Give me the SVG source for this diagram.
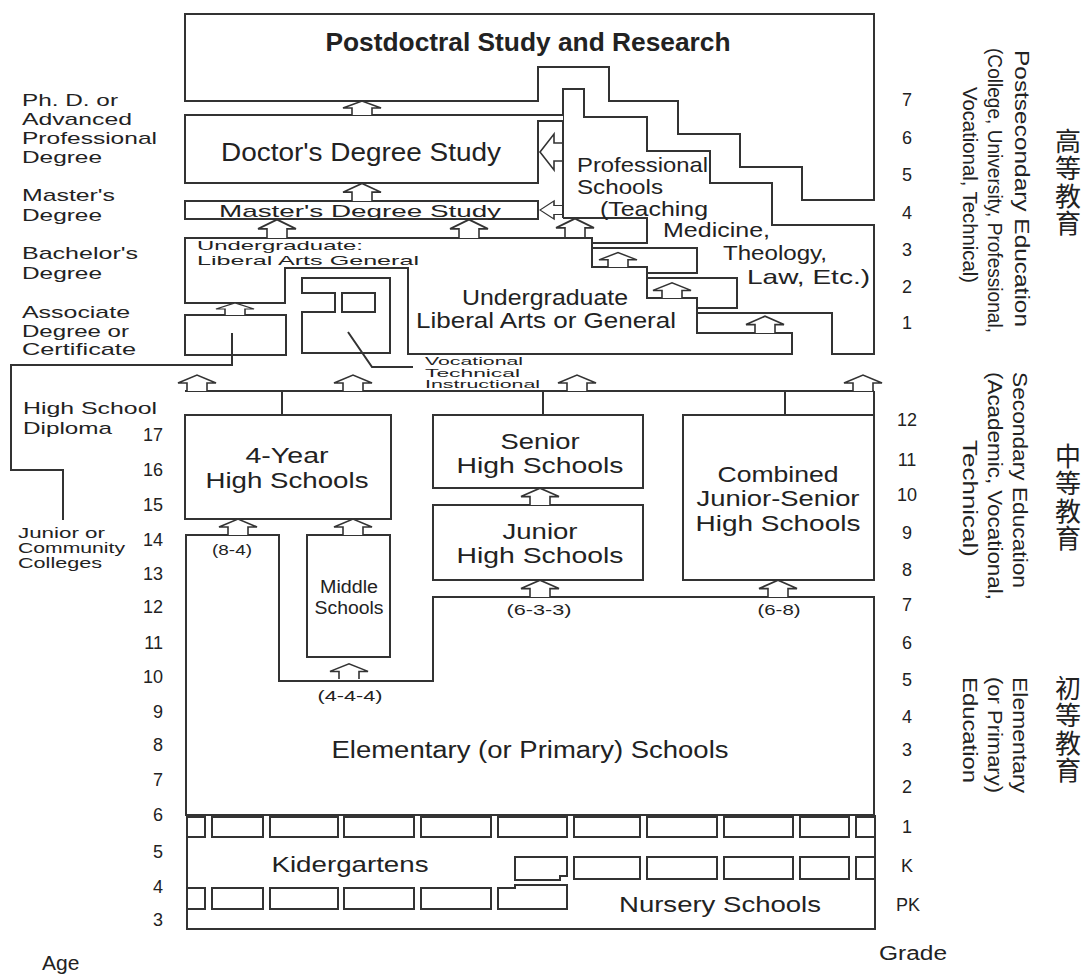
<svg xmlns="http://www.w3.org/2000/svg" width="1091" height="976" viewBox="0 0 1091 976">
<style>
.ln{fill:none;stroke:#333;stroke-width:2}
.bx{fill:#fff;stroke:#333;stroke-width:2}
.ar{fill:#fff;stroke:#333;stroke-width:1.6;stroke-linejoin:miter}
text{font-family:"Liberation Sans",Arial,sans-serif;fill:#222}
.b{font-weight:bold}
.m{text-anchor:middle}
.e{text-anchor:end}
.s{text-anchor:start}
.hs{font-size:22px}
.cjk{font-family:"Noto Sans CJK SC","Noto Sans CJK JP",sans-serif;font-size:26px;fill:#222;writing-mode:vertical-rl;letter-spacing:1.5px}
</style>
<defs>
<path id="ua" class="ar" d="M-10,0 V-8 H-19 L0,-16 L19,-8 H10 V0"/>
<path id="la" class="ar" d="M0,-9 H-8 V-18 L-22,0 L-8,18 V9 H0"/>
</defs>
<rect width="1091" height="976" fill="#fff"/>

<g id="postdoc">
<path class="bx" d="M185,14 H874 V200 H802 V167 H740 V134 H678 V101 H609 V67 H538 V101 H185 Z"/>
<text class="b m" x="528" y="51" font-size="25" textLength="405" lengthAdjust="spacingAndGlyphs">Postdoctral Study and Research</text>
</g>

<g id="professional">
<path class="ln" d="M563,218 V89 H584 V117 H647 V151 H710 V183 H772 V225 H874 V354 H832 V313 H697"/>
<path class="ln" d="M647,278 H737 V308 H697"/>
<path class="ln" d="M592,248 H697 V273 H647"/>
<path class="ln" d="M563,218 H647 V243 H592"/>
<text x="577" y="172" font-size="21" textLength="131" lengthAdjust="spacingAndGlyphs">Professional</text>
<text x="577" y="194" font-size="21" textLength="86" lengthAdjust="spacingAndGlyphs">Schools</text>
<text x="600" y="216" font-size="21" textLength="108" lengthAdjust="spacingAndGlyphs">(Teaching</text>
<text x="663" y="237" font-size="21" textLength="107" lengthAdjust="spacingAndGlyphs">Medicine,</text>
<text x="723" y="260" font-size="21" textLength="104" lengthAdjust="spacingAndGlyphs">Theology,</text>
<text x="747" y="284" font-size="21" textLength="123" lengthAdjust="spacingAndGlyphs">Law, Etc.)</text>
</g>

<g id="doctor">
<path class="bx" d="M563,115 H185 V183 H538 V121 H563"/>
<text class="m" x="361" y="161" font-size="25" textLength="280" lengthAdjust="spacingAndGlyphs">Doctor's Degree Study</text>
</g>

<g id="master">
<rect class="bx" x="185" y="201" width="353" height="18"/>
<text class="m" x="360" y="217" font-size="17" textLength="282" lengthAdjust="spacingAndGlyphs">Master's Degree Study</text>
</g>

<g id="undergrad">
<path class="ln" d="M185,238 H592 V267 H647 V298 H697 V333 H792 V354 H408 V268 H285 V303 H185 Z"/>
<path class="ln" d="M832,333 V354"/>
<text x="197" y="250" font-size="13.5" textLength="166" lengthAdjust="spacingAndGlyphs">Undergraduate:</text>
<text x="197" y="265" font-size="13.5" textLength="222" lengthAdjust="spacingAndGlyphs">Liberal Arts General</text>
<text class="m" x="545" y="305" font-size="22" textLength="166" lengthAdjust="spacingAndGlyphs">Undergraduate</text>
<text class="m" x="546" y="328" font-size="22" textLength="260" lengthAdjust="spacingAndGlyphs">Liberal Arts or General</text>
</g>

<g id="associate">
<rect class="bx" x="185" y="315" width="101" height="40"/>
</g>

<g id="vocational">
<path class="bx" d="M302,293 V278 H390 V353 H302 V312 H335 V293 Z"/>
<rect class="bx" x="342" y="293" width="33" height="19"/>
<text x="425" y="365" font-size="11" textLength="98" lengthAdjust="spacingAndGlyphs">Vocational</text>
<text x="425" y="376.5" font-size="11" textLength="95" lengthAdjust="spacingAndGlyphs">Technical</text>
<text x="425" y="388" font-size="11" textLength="115" lengthAdjust="spacingAndGlyphs">Instructional</text>
</g>

<g id="hs4">
<rect class="bx" x="185" y="415" width="206" height="104"/>
<text class="m hs" x="287" y="463" textLength="83" lengthAdjust="spacingAndGlyphs">4-Year</text>
<text class="m hs" x="287" y="488" textLength="163" lengthAdjust="spacingAndGlyphs">High Schools</text>
</g>

<g id="senior">
<rect class="bx" x="433" y="415" width="210" height="73"/>
<text class="m hs" x="540" y="449" textLength="79" lengthAdjust="spacingAndGlyphs">Senior</text>
<text class="m hs" x="540" y="473" textLength="167" lengthAdjust="spacingAndGlyphs">High Schools</text>
</g>

<g id="junior">
<rect class="bx" x="433" y="505" width="210" height="75"/>
<text class="m hs" x="540" y="539" textLength="75" lengthAdjust="spacingAndGlyphs">Junior</text>
<text class="m hs" x="540" y="563" textLength="167" lengthAdjust="spacingAndGlyphs">High Schools</text>
</g>

<g id="combined">
<rect class="bx" x="683" y="415" width="191" height="165"/>
<text class="m hs" x="778" y="482" textLength="121" lengthAdjust="spacingAndGlyphs">Combined</text>
<text class="m hs" x="778" y="506" textLength="163" lengthAdjust="spacingAndGlyphs">Junior-Senior</text>
<text class="m hs" x="778" y="531" textLength="165" lengthAdjust="spacingAndGlyphs">High Schools</text>
</g>

<g id="elementary">
<path class="bx" d="M186,535 H279 V681 H433 V597 H874 V815 H186 Z"/>
<text class="m" x="530" y="758" font-size="23" textLength="397" lengthAdjust="spacingAndGlyphs">Elementary (or Primary) Schools</text>
<text class="m" x="232" y="555" font-size="15" textLength="40" lengthAdjust="spacingAndGlyphs">(8-4)</text>
<text class="m" x="539" y="615" font-size="15" textLength="65" lengthAdjust="spacingAndGlyphs">(6-3-3)</text>
<text class="m" x="779" y="615" font-size="15" textLength="43" lengthAdjust="spacingAndGlyphs">(6-8)</text>
<text class="m" x="350" y="701" font-size="15" textLength="65" lengthAdjust="spacingAndGlyphs">(4-4-4)</text>
</g>

<g id="middle">
<rect class="bx" x="307" y="535" width="83" height="122"/>
<text class="m" x="349" y="593" font-size="18" textLength="58" lengthAdjust="spacingAndGlyphs">Middle</text>
<text class="m" x="349" y="614" font-size="18" textLength="69" lengthAdjust="spacingAndGlyphs">Schools</text>
</g>

<g id="early">
<path class="ln" d="M187,815 V929 H875 V815"/>
<path class="ln" d="M187,817 H205 V837 H187"/>
<path class="ln" d="M875,817 H856 V837 H875"/>
<rect class="ln" x="212" y="817" width="51" height="20"/>
<rect class="ln" x="270" y="817" width="68" height="20"/>
<rect class="ln" x="344" y="817" width="70" height="20"/>
<rect class="ln" x="421" y="817" width="70" height="20"/>
<rect class="ln" x="498" y="817" width="69" height="20"/>
<rect class="ln" x="574" y="817" width="66" height="20"/>
<rect class="ln" x="647" y="817" width="70" height="20"/>
<rect class="ln" x="724" y="817" width="69" height="20"/>
<rect class="ln" x="800" y="817" width="49" height="20"/>
<path class="ln" d="M875,857 H856 V879 H875"/>
<path class="ln" d="M567,857 H515 V880 H560 V876 H567 Z"/>
<rect class="ln" x="574" y="857" width="66" height="22"/>
<rect class="ln" x="647" y="857" width="70" height="22"/>
<rect class="ln" x="724" y="857" width="69" height="22"/>
<rect class="ln" x="800" y="857" width="49" height="22"/>
<path class="ln" d="M187,888 H205 V909 H187"/>
<rect class="ln" x="212" y="888" width="51" height="21"/>
<rect class="ln" x="270" y="888" width="68" height="21"/>
<rect class="ln" x="344" y="888" width="70" height="21"/>
<rect class="ln" x="421" y="888" width="70" height="21"/>
<path class="ln" d="M498,888 H515 V885 H567 V909 H498 Z"/>
<text class="m" x="350" y="872" font-size="22" textLength="157" lengthAdjust="spacingAndGlyphs">Kidergartens</text>
<text class="m" x="720" y="912" font-size="22" textLength="202" lengthAdjust="spacingAndGlyphs">Nursery Schools</text>
</g>

<g id="connectors">
<path class="ln" d="M185,391 H874 M282,391 V415 M543,391 V415 M785,391 V415 M874,391 V415"/>
<path class="ln" d="M232,333 V365 H11 V470 H63 V520"/>
<path class="ln" d="M348,332 L372,367 H413"/>
<use href="#ua" transform="translate(362,115) scale(1,0.875)"/>
<use href="#ua" transform="translate(362,201) scale(1,1.1)"/>
<use href="#ua" transform="translate(277,238) scale(1,1.15)"/>
<use href="#ua" transform="translate(469,238) scale(1,1.15)"/>
<use href="#ua" transform="translate(575,237) scale(1,1.15)"/>
<use href="#ua" transform="translate(618,267) scale(1,0.9)"/>
<use href="#ua" transform="translate(672,298) scale(1,0.95)"/>
<use href="#ua" transform="translate(765,333) scale(1,1.05)"/>
<use href="#ua" transform="translate(235,315) scale(1,0.75)"/>
<use href="#ua" transform="translate(197,391)"/>
<use href="#ua" transform="translate(353,391)"/>
<use href="#ua" transform="translate(577,391)"/>
<use href="#ua" transform="translate(863,391)"/>
<use href="#ua" transform="translate(238,535)"/>
<use href="#ua" transform="translate(353,535)"/>
<use href="#ua" transform="translate(540,505) scale(1,1.05)"/>
<use href="#ua" transform="translate(540,597) scale(1,1.05)"/>
<use href="#ua" transform="translate(778,597) scale(1,1.05)"/>
<use href="#ua" transform="translate(349,679) scale(1,0.95)"/>
<use href="#la" transform="translate(562,152)"/>
<use href="#la" transform="translate(562,210) scale(1,0.5)"/>
</g>

<g id="left-labels" font-size="17">
<text x="22" y="106" textLength="96" lengthAdjust="spacingAndGlyphs">Ph. D. or</text>
<text x="22" y="125" textLength="110" lengthAdjust="spacingAndGlyphs">Advanced</text>
<text x="22" y="144" textLength="135" lengthAdjust="spacingAndGlyphs">Professional</text>
<text x="22" y="163" textLength="80" lengthAdjust="spacingAndGlyphs">Degree</text>
<text x="22" y="201" textLength="93" lengthAdjust="spacingAndGlyphs">Master's</text>
<text x="22" y="221" textLength="80" lengthAdjust="spacingAndGlyphs">Degree</text>
<text x="22" y="259" textLength="116" lengthAdjust="spacingAndGlyphs">Bachelor's</text>
<text x="22" y="279" textLength="80" lengthAdjust="spacingAndGlyphs">Degree</text>
<text x="22" y="318" textLength="108" lengthAdjust="spacingAndGlyphs">Associate</text>
<text x="22" y="337" textLength="107" lengthAdjust="spacingAndGlyphs">Degree or</text>
<text x="22" y="355" textLength="114" lengthAdjust="spacingAndGlyphs">Certificate</text>
<text x="23" y="414" textLength="134" lengthAdjust="spacingAndGlyphs">High School</text>
<text x="23" y="434" textLength="89" lengthAdjust="spacingAndGlyphs">Diploma</text>
<text x="18" y="538" font-size="14" textLength="87" lengthAdjust="spacingAndGlyphs">Junior or</text>
<text x="18" y="553" font-size="14" textLength="107" lengthAdjust="spacingAndGlyphs">Community</text>
<text x="18" y="568" font-size="14" textLength="84" lengthAdjust="spacingAndGlyphs">Colleges</text>
</g>

<g id="ages" font-size="18">
<text class="e" x="163" y="441">17</text>
<text class="e" x="163" y="476">16</text>
<text class="e" x="163" y="511">15</text>
<text class="e" x="163" y="546">14</text>
<text class="e" x="163" y="580">13</text>
<text class="e" x="163" y="613">12</text>
<text class="e" x="163" y="649">11</text>
<text class="e" x="163" y="683">10</text>
<text class="e" x="163" y="718">9</text>
<text class="e" x="163" y="751">8</text>
<text class="e" x="163" y="786">7</text>
<text class="e" x="163" y="821">6</text>
<text class="e" x="163" y="858">5</text>
<text class="e" x="163" y="893">4</text>
<text class="e" x="163" y="926">3</text>
<text class="s" x="42" y="970" font-size="21">Age</text>
</g>

<g id="grades" font-size="18">
<text class="m" x="907" y="106">7</text>
<text class="m" x="907" y="144">6</text>
<text class="m" x="907" y="181">5</text>
<text class="m" x="907" y="219">4</text>
<text class="m" x="907" y="256">3</text>
<text class="m" x="907" y="293">2</text>
<text class="m" x="907" y="329">1</text>
<text class="m" x="907" y="426">12</text>
<text class="m" x="907" y="466">11</text>
<text class="m" x="907" y="501">10</text>
<text class="m" x="907" y="539">9</text>
<text class="m" x="907" y="576">8</text>
<text class="m" x="907" y="611">7</text>
<text class="m" x="907" y="649">6</text>
<text class="m" x="907" y="686">5</text>
<text class="m" x="907" y="723">4</text>
<text class="m" x="907" y="756">3</text>
<text class="m" x="907" y="793">2</text>
<text class="m" x="907" y="833">1</text>
<text class="m" x="907" y="872">K</text>
<text class="m" x="908" y="911">PK</text>
<text class="m" x="913" y="960" font-size="20" textLength="68" lengthAdjust="spacingAndGlyphs">Grade</text>
</g>

<g id="levels" font-size="21">
<text transform="translate(1014.5,50) rotate(90)" textLength="277" lengthAdjust="spacingAndGlyphs">Postsecondary Education</text>
<text transform="translate(987.5,48) rotate(90)" textLength="285" lengthAdjust="spacingAndGlyphs">(College, University, Professional,</text>
<text transform="translate(962.5,87) rotate(90)" textLength="196" lengthAdjust="spacingAndGlyphs">Vocational, Technical)</text>
<text transform="translate(1012.5,372) rotate(90)" textLength="216" lengthAdjust="spacingAndGlyphs">Secondary Education</text>
<text transform="translate(987.5,372) rotate(90)" textLength="228" lengthAdjust="spacingAndGlyphs">(Academic, Vocational,</text>
<text transform="translate(962.5,440) rotate(90)" textLength="117" lengthAdjust="spacingAndGlyphs">Technical)</text>
<text transform="translate(1012.5,677) rotate(90)" textLength="116" lengthAdjust="spacingAndGlyphs">Elementary</text>
<text transform="translate(987.5,677) rotate(90)" textLength="116" lengthAdjust="spacingAndGlyphs">(or Primary)</text>
<text transform="translate(962.5,677) rotate(90)" textLength="106" lengthAdjust="spacingAndGlyphs">Education</text>
<text class="cjk" x="1068" y="128">高等教育</text>
<text class="cjk" x="1068" y="443">中等教育</text>
<text class="cjk" x="1068" y="675">初等教育</text>
</g>
</svg>
